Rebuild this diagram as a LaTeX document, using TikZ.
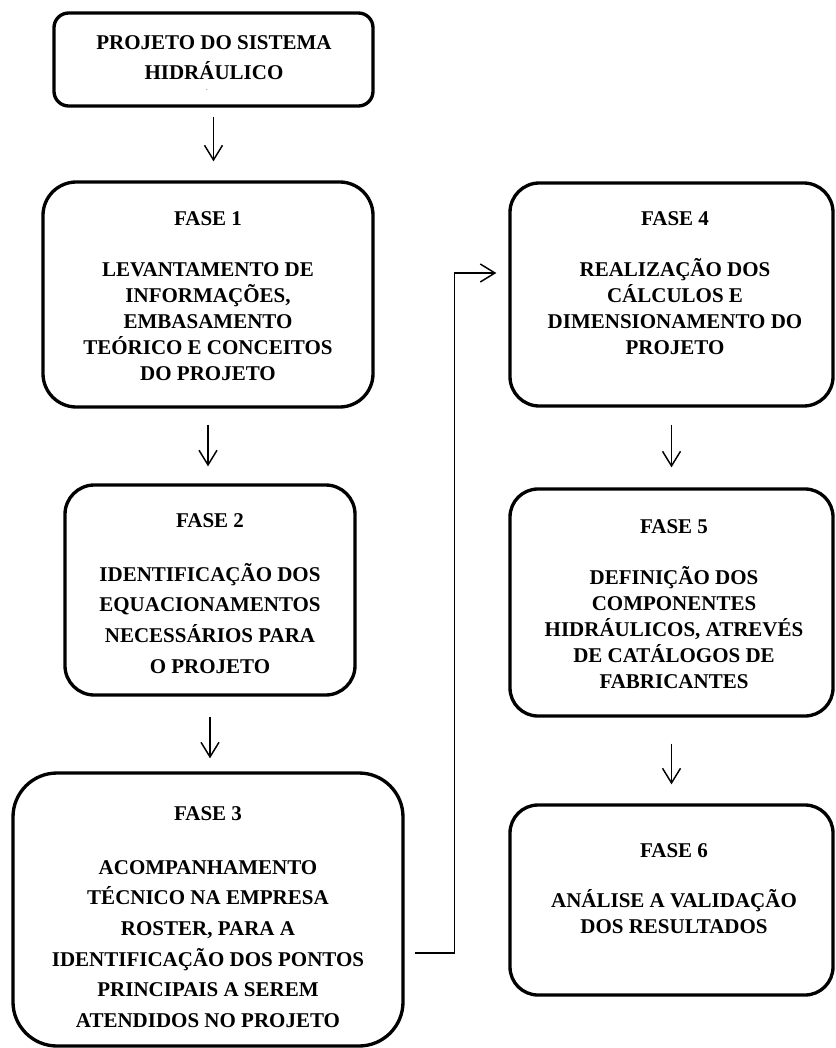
\documentclass[tikz,border=0pt]{standalone}
\usepackage{fontspec}
\setmainfont{Liberation Serif}
\usetikzlibrary{arrows.meta}

\begin{document}
\begin{tikzpicture}[x=.75pt,y=-.75pt,
  box/.style={draw,line width=2.5pt,inner sep=0pt,rounded corners=#1},
  txt/.style={anchor=north,inner sep=0pt,align=center,font=\bfseries\fontsize{15.75pt}{19.5pt}\selectfont},
  txtw/.style={txt,font=\bfseries\fontsize{15.75pt}{23pt}\selectfont},
  arr/.style={-{Straight Barb[length=11pt,width=13.5pt]},line width=1.1pt}]
\useasboundingbox (0,0) rectangle (835,1048);
\foreach \n/\x/\y/\w/\h/\r in {b0/213.5/59.5/239.25pt/69.75pt/11pt,
  f1/208/294.5/247.5pt/168.75pt/25pt, f2/210/590/217.5pt/157.5pt/22pt,
  f3/208/909.5/292.5pt/204.75pt/33pt, f4/671.5/294.5/242.25pt/167.25pt/22pt,
  f5/671.5/602.5/242.25pt/170.25pt/21pt, f6/671.5/900/242.25pt/142.5pt/21pt}
  {\node[box=\r,minimum width=\w,minimum height=\h] (\n) at (\x,\y) {};}
\node[txtw] (t0) at (214,35) {PROJETO DO SISTEMA\\HIDRÁULICO};
\node[inner sep=0pt,font=\tiny] (p0) at (207,90) {.};
\node[txt] (t1) at (208,211) {FASE 1\\[18.75pt]LEVANTAMENTO DE\\INFORMAÇÕES,\\EMBASAMENTO\\TEÓRICO E CONCEITOS\\DO PROJETO};
\node[txtw] (t2) at (210,513) {FASE 2\\[17.5pt]IDENTIFICAÇÃO DOS\\EQUACIONAMENTOS\\NECESSÁRIOS PARA\\O PROJETO};
\node[txtw] (t3) at (208,806) {FASE 3\\[17.5pt]ACOMPANHAMENTO\\TÉCNICO NA EMPRESA\\ROSTER, PARA A\\IDENTIFICAÇÃO DOS PONTOS\\PRINCIPAIS A SEREM\\ATENDIDOS NO PROJETO};
\node[txt] (t4) at (675,211) {FASE 4\\[18.75pt]REALIZAÇÃO DOS\\CÁLCULOS E\\DIMENSIONAMENTO DO\\PROJETO};
\node[txt] (t5) at (674,519) {FASE 5\\[18.75pt]DEFINIÇÃO DOS\\COMPONENTES\\HIDRÁULICOS, ATREVÉS\\DE CATÁLOGOS DE\\FABRICANTES};
\node[txt] (t6) at (674,843) {FASE 6\\[18pt]ANÁLISE A VALIDAÇÃO\\DOS RESULTADOS};
\foreach \a/\b/\s/\e in {b0/f1/6.75/14.25, f1/f2/12/12.75, f2/f3/15/9.75, f4/f5/12.75/15, f5/f6/19.5/14.25}
  \draw[arr,shorten <=\s pt,shorten >=\e pt] (\a.south) -- (\a.south |- \b.north);
\draw[arr] ([shift={(10,43.5)}]f3.east) -| ([shift={(-54,-21.5)}]f4.west) -- ([shift={(-12,-21.5)}]f4.west);
\end{tikzpicture}
\end{document}
